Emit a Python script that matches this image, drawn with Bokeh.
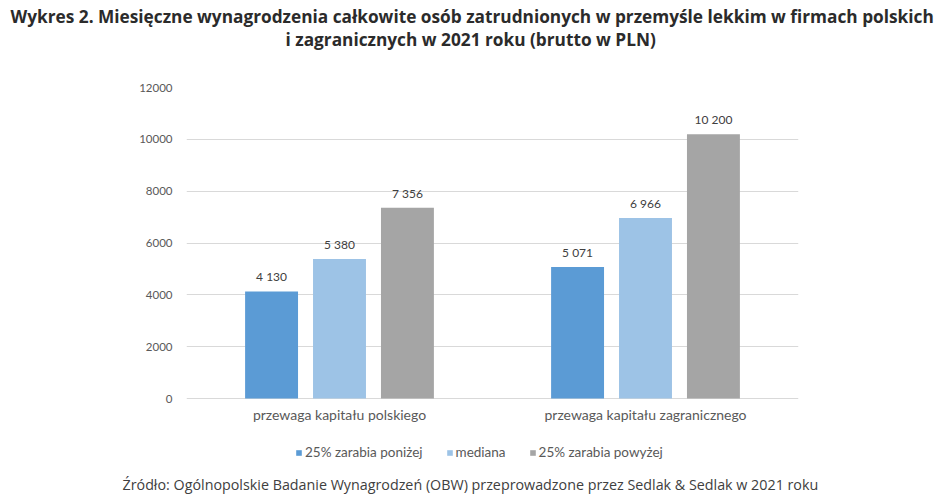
from bokeh.plotting import figure
from bokeh.models import (ColumnDataSource, FactorRange, FixedTicker, LabelSet,
                          Legend, LegendItem, Title)
from bokeh.core.properties import value
from bokeh.transform import dodge
from bokeh.embed import file_html
from bokeh.resources import INLINE

# ---- data ----
categories = ["przewaga kapitału polskiego", "przewaga kapitału zagranicznego"]
series_names = ["25% zarabia poniżej", "mediana", "25% zarabia powyżej"]
low_quartile = [4130, 5071]
median = [5380, 6966]
high_quartile = [7356, 10200]
y_ticks = [0, 2000, 4000, 6000, 8000, 10000, 12000]
y_max = 12000

title_lines = ["Wykres 2. Miesięczne wynagrodzenia całkowite osób zatrudnionych w przemyśle lekkim w firmach polskich",
               "i zagranicznych w 2021 roku (brutto w PLN)"]
source_note = "Źródło: Ogólnopolskie Badanie Wynagrodzeń (OBW) przeprowadzone przez Sedlak & Sedlak w 2021 roku"

colors = ["#5B9BD5", "#9DC3E6", "#A5A5A5"]
offsets = [-0.222, 0.0, 0.222]
bar_w = 0.173

def fmt(v):
    return f"{v:,}".replace(",", " ")

src = ColumnDataSource(dict(
    cat=categories,
    low=low_quartile, med=median, high=high_quartile,
    low_t=[fmt(v) for v in low_quartile],
    med_t=[fmt(v) for v in median],
    high_t=[fmt(v) for v in high_quartile],
))

# layout (page pixels)
W, H = 940, 495
FL, FR, FT = 186, 798, 87     # plot area left/right/top
ZERO = 398                    # pixel row of value 0
FB = 472                      # frame extended below zero to hold labels + legend
px_per_unit = (ZERO - FT) / y_max
y_start = -(FB - ZERO) / px_per_unit

p = figure(width=W, height=H, x_range=FactorRange(*categories), y_range=(y_start, y_max),
           output_backend="svg", toolbar_location=None, x_axis_location=None,
           min_border_left=FL, min_border_right=W - FR, min_border_top=FT, min_border_bottom=H - FB)
p.outline_line_color = None
p.background_fill_color = "white"
p.border_fill_color = "white"

fields = ["low", "med", "high"]
renderers = []
for f, c, off in zip(fields, colors, offsets):
    r = p.vbar(x=dodge("cat", off, range=p.x_range), top=f, width=bar_w, source=src,
               fill_color=c, line_color=None)
    renderers.append(r)
    p.add_layout(LabelSet(x=dodge("cat", off, range=p.x_range), y=f, text=f + "_t", source=src,
                          text_align="center", text_baseline="bottom", y_offset=7,
                          text_font=value("Lato"), text_font_size="12px", text_color="#404040"))

# category labels under the baseline
cat_src = ColumnDataSource(dict(cat=categories, zero=[0] * len(categories)))
p.add_layout(LabelSet(x="cat", y="zero", text="cat", source=cat_src, y_offset=-7,
                      text_align="center", text_baseline="top",
                      text_font=value("Lato"), text_font_size="14px", text_color="#595959"))

# y axis
p.yaxis.ticker = FixedTicker(ticks=y_ticks)
p.yaxis.axis_line_color = None
p.yaxis.major_tick_line_color = None
p.yaxis.minor_tick_line_color = None
p.yaxis.major_label_standoff = 8
p.yaxis.major_label_text_font = "Lato"
p.yaxis.major_label_text_font_size = "11.5px"
p.yaxis.major_label_text_color = "#595959"

p.xgrid.grid_line_color = None
p.ygrid.grid_line_color = "#D9D9D9"
p.ygrid.ticker = FixedTicker(ticks=y_ticks)

# legend inside the extended frame
legend = Legend(items=[LegendItem(label=n, renderers=[r]) for n, r in zip(series_names, renderers)],
                orientation="horizontal", location=(295 - FL, 12),
                glyph_width=7, glyph_height=7, label_standoff=3, spacing=23,
                padding=0, margin=0, border_line_color=None, background_fill_alpha=0,
                label_text_font="Lato", label_text_font_size="13.5px", label_text_color="#595959",
                label_height=14)
p.add_layout(legend, "center")

# source note (bottom)
p.add_layout(Title(text=source_note, align="left", offset=122 - FL, text_font="Open Sans",
                   text_font_style="normal", text_font_size="14.3px", text_color="#404040",
                   standoff=0), "below")

# two-line title (panels stack outward from the plot: spacer, line 2, line 1)
tfont = "Open Sans"
tsize = "17.25px"
p.add_layout(Title(text=" ", text_font=tfont, text_font_size="1px", standoff=34.5), "above")
p.add_layout(Title(text=title_lines[1], align="left", offset=285 - FL,
                   text_font=tfont, text_font_style="bold",
                   text_font_size=tsize, text_color="#2b2b2b", standoff=-2.5), "above")
p.add_layout(Title(text=title_lines[0], align="left", offset=10 - FL,
                   text_font=tfont, text_font_style="bold",
                   text_font_size=tsize, text_color="#2b2b2b", standoff=-2.5), "above")

open("out.html", "w").write(file_html(p, INLINE))
